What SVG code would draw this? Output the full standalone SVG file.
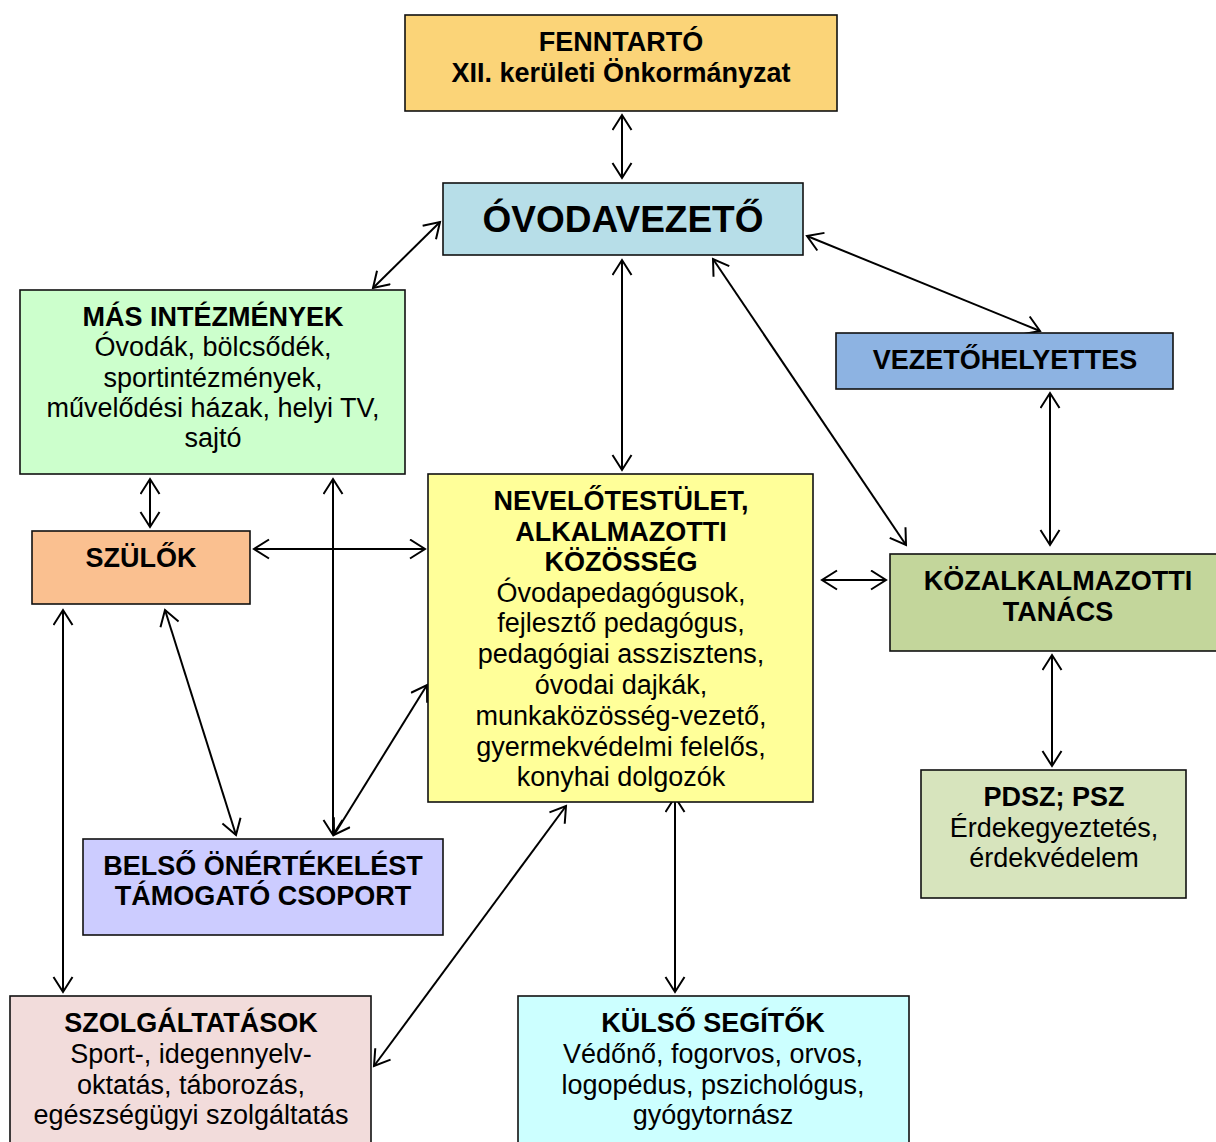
<svg xmlns="http://www.w3.org/2000/svg" width="1216" height="1142" viewBox="0 0 1216 1142">
<style>
.box{stroke:#111;stroke-width:1.6}
text{font-family:"Liberation Sans",Arial,sans-serif;font-size:27px;fill:#000;text-anchor:middle}
.b{font-weight:bold}
.c line{stroke:#000;stroke-width:2;marker-start:url(#ah);marker-end:url(#ah)}
</style>
<defs>
<marker id="ah" markerUnits="userSpaceOnUse" markerWidth="20" markerHeight="22" refX="16" refY="10.5" orient="auto-start-reverse" viewBox="0 0 20 22">
<path d="M1,1 L16,10.5 L1,20" fill="none" stroke="#000" stroke-width="2"/>
</marker>
</defs>
<rect width="1216" height="1142" fill="#fff"/>
<g class="c">
<line x1="622" y1="115" x2="622" y2="178"/>
<line x1="440" y1="222" x2="373" y2="288"/>
<line x1="807" y1="236" x2="1040" y2="331"/>
<line x1="622" y1="260" x2="622" y2="470"/>
<line x1="713" y1="259" x2="906" y2="545"/>
<line x1="1050" y1="393" x2="1050" y2="545"/>
<line x1="822" y1="580" x2="886" y2="580"/>
<line x1="1052" y1="655" x2="1052" y2="766"/>
<line x1="150" y1="479" x2="150" y2="527"/>
<line x1="254" y1="549" x2="425" y2="549"/>
<line x1="333" y1="479" x2="333" y2="835"/>
<line x1="165" y1="610" x2="236" y2="835"/>
<line x1="427" y1="685" x2="334" y2="835"/>
<line x1="63" y1="610" x2="63" y2="992"/>
<line x1="566" y1="806" x2="374" y2="1066"/>
<line x1="675" y1="797" x2="675" y2="992"/>
</g>
<g id="fenntarto">
<rect class="box" x="405" y="15" width="432" height="96" fill="#FBD478"/>
<text class="b" x="621" y="51">FENNTARTÓ</text>
<text class="b" x="621" y="82">XII. kerületi Önkormányzat</text>
</g>
<g id="ovodavezeto">
<rect class="box" x="443" y="183" width="360" height="72" fill="#B7DEE8"/>
<text class="b" x="623" y="232" style="font-size:37px">ÓVODAVEZETŐ</text>
</g>
<g id="mas">
<rect class="box" x="20" y="290" width="385" height="184" fill="#CCFFCC"/>
<text class="b" x="213" y="326">MÁS INTÉZMÉNYEK</text>
<text x="213" y="356">Óvodák, bölcsődék,</text>
<text x="213" y="387">sportintézmények,</text>
<text x="213" y="417">művelődési házak, helyi TV,</text>
<text x="213" y="447">sajtó</text>
</g>
<g id="szulok">
<rect class="box" x="32" y="531" width="218" height="73" fill="#FAC090"/>
<text class="b" x="141" y="567">SZÜLŐK</text>
</g>
<g id="nevelo">
<rect class="box" x="428" y="474" width="385" height="328" fill="#FFFF99"/>
<text class="b" x="621" y="510">NEVELŐTESTÜLET,</text>
<text class="b" x="621" y="541">ALKALMAZOTTI</text>
<text class="b" x="621" y="571">KÖZÖSSÉG</text>
<text x="621" y="602">Óvodapedagógusok,</text>
<text x="621" y="632">fejlesztő pedagógus,</text>
<text x="621" y="663">pedagógiai asszisztens,</text>
<text x="621" y="694">óvodai dajkák,</text>
<text x="621" y="725">munkaközösség-vezető,</text>
<text x="621" y="756">gyermekvédelmi felelős,</text>
<text x="621" y="786">konyhai dolgozók</text>
</g>
<g id="vezetohelyettes">
<rect class="box" x="836" y="333" width="337" height="56" fill="#8DB3E2"/>
<text class="b" x="1005" y="369">VEZETŐHELYETTES</text>
</g>
<g id="kozalk">
<rect class="box" x="890" y="554" width="332" height="97" fill="#C3D69B"/>
<text class="b" x="1058" y="590">KÖZALKALMAZOTTI</text>
<text class="b" x="1058" y="621">TANÁCS</text>
</g>
<g id="pdsz">
<rect class="box" x="921" y="770" width="265" height="128" fill="#D7E4BD"/>
<text class="b" x="1054" y="806">PDSZ; PSZ</text>
<text x="1054" y="837">Érdekegyeztetés,</text>
<text x="1054" y="867">érdekvédelem</text>
</g>
<g id="belso">
<rect class="box" x="83" y="839" width="360" height="96" fill="#CCCCFF"/>
<text class="b" x="263" y="875">BELSŐ ÖNÉRTÉKELÉST</text>
<text class="b" x="263" y="905">TÁMOGATÓ CSOPORT</text>
</g>
<g id="szolg">
<rect class="box" x="10" y="996" width="361" height="150" fill="#F2DCDB"/>
<text class="b" x="191" y="1032">SZOLGÁLTATÁSOK</text>
<text x="191" y="1063">Sport-, idegennyelv-</text>
<text x="191" y="1094">oktatás, táborozás,</text>
<text x="191" y="1124">egészségügyi szolgáltatás</text>
</g>
<g id="kulso">
<rect class="box" x="518" y="996" width="391" height="150" fill="#CCFFFF"/>
<text class="b" x="713" y="1032">KÜLSŐ SEGÍTŐK</text>
<text x="713" y="1063">Védőnő, fogorvos, orvos,</text>
<text x="713" y="1094">logopédus, pszichológus,</text>
<text x="713" y="1124">gyógytornász</text>
</g>
</svg>
